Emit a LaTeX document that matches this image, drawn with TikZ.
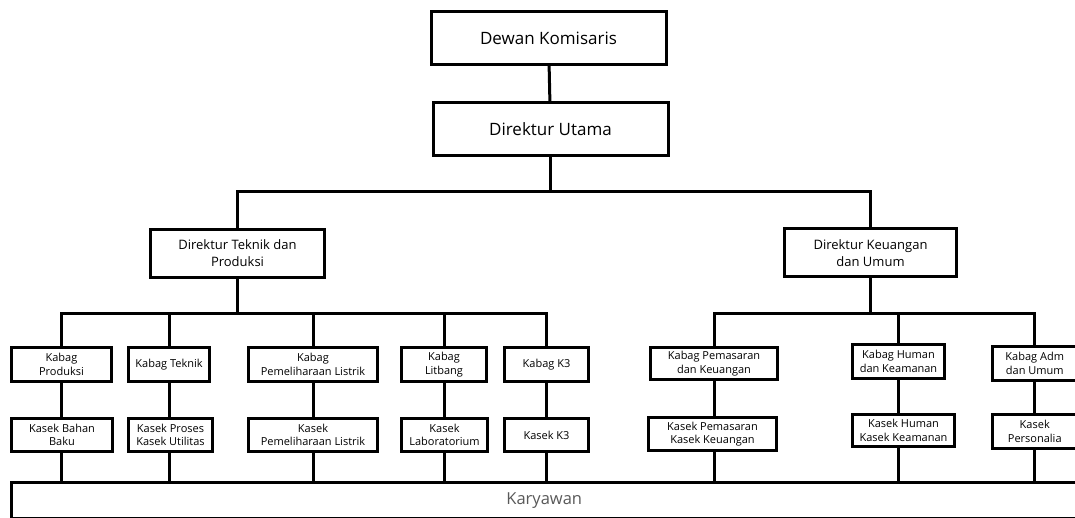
\documentclass[tikz,border=0pt]{standalone}
\usepackage{fontspec}
\setmainfont{Open Sans}
\usetikzlibrary{calc,positioning}
\tikzset{%
  box/.style={draw,rectangle,line width=3pt,align=center,inner sep=1pt,fill=white},
  line/.style={draw,line width=3pt}
}

\begin{document}
\begin{tikzpicture}[x=1pt,y=-1pt,
                    top/.style={box,minimum width=235pt,minimum height=53pt,%
                    font=\fontsize{17}{20}\selectfont},%
                    dir/.style={box,minimum height=48pt,font=\fontsize{13}{17}\selectfont},%
                    kb/.style={box,minimum height=34pt,font=\fontsize{11}{13.5}\selectfont}]
  \useasboundingbox (0,0) rectangle (1075,518);
  % pimpinan
  \node[top] (dk) at (548.5,38) {Dewan Komisaris};
  \node[top] (du) at (550.5,129) {Direktur Utama};
  \node[dir,minimum width=174pt] (dtp) at (237.5,253.5) {Direktur Teknik dan\\Produksi};
  \node[dir,minimum width=172pt] (dku) at (870.5,253) {Direktur Keuangan\\dan Umum};
  % kabag
  \node[kb,minimum width=100pt] (kp) at (61.5,364.5) {Kabag\\Produksi};
  \node[kb,minimum width=81pt] (kt) at (169,364.5) {Kabag Teknik};
  \node[kb,minimum width=129pt] (kpl) at (313,364.5) {Kabag\\Pemeliharaan Listrik};
  \node[kb,minimum width=85pt] (kl) at (444,364.5) {Kabag\\Litbang};
  \node[kb,minimum width=84pt] (kk3) at (546.5,364.5) {Kabag K3};
  \node[kb,minimum width=127pt,minimum height=32pt] (kpk) at (714,363.5) {Kabag Pemasaran\\dan Keuangan};
  \node[kb,minimum width=92pt] (khk) at (898.5,361.5) {Kabag Human\\dan Keamanan};
  \node[kb,minimum width=84.5pt] (kau) at (1034.75,363.5) {Kabag Adm\\dan Umum};
  % kasek
  \node[kb,minimum width=101pt,minimum height=33pt] (ksb) at (62,435) {Kasek Bahan\\Baku};
  \node[kb,minimum width=84pt,minimum height=33pt] (ksp) at (170.5,435) {Kasek Proses\\Kasek Utilitas};
  \node[kb,minimum width=129pt,minimum height=33pt] (kspl) at (313,435) {Kasek\\Pemeliharaan Listrik};
  \node[kb,minimum width=86pt,minimum height=33pt] (kslab) at (444.5,435) {Kasek\\Laboratorium};
  \node[kb,minimum width=84pt,minimum height=33pt] (ksk3) at (546.5,435) {Kasek K3};
  \node[kb,minimum width=128pt,minimum height=33pt] (kspk) at (712.5,434) {Kasek Pemasaran\\Kasek Keuangan};
  \node[kb,minimum width=102pt,minimum height=32pt] (kshk) at (903.5,430.5) {Kasek Human\\Kasek Keamanan};
  \node[kb,minimum width=84.5pt] (ksper) at (1034.75,431.5) {Kasek\\Personalia};
  % karyawan
  \node[box,minimum width=1065.5pt,minimum height=36pt,text=black!65,%
        font=\fontsize{16.5}{20}\selectfont] (kary) at (544.25,500.5) {Karyawan};
  % garis
  \coordinate (b1) at (0,192);
  \coordinate (b2) at (0,313);
  \draw[line] (dk) -- (du);
  \draw[line] (du.south) -- (du.south |- b1) -| (dtp.north);
  \draw[line] (du.south |- b1) -| (dku.north);
  \draw[line] (dtp.south) -- (dtp.south |- b2);
  \draw[line] (kp.north) -- (kp.north |- b2) -- (kk3.north |- b2) -- (kk3.north);
  \draw[line] (dku.south) -- (dku.south |- b2);
  \draw[line] (kpk.north) -- (kpk.north |- b2) -- (kau.north |- b2) -- (kau.north);
  \foreach \k in {kt,kpl,kl,khk}
    \draw[line] (\k.north) -- (\k.north |- b2);
  \foreach \a/\b in {kp/ksb,kt/ksp,kpl/kspl,kl/kslab,kk3/ksk3,kpk/kspk,khk/kshk,kau/ksper}{
    \draw[line] (\a.south) -- (\a.south |- \b.north);
    \draw[line] (\b.south -| \a) -- (\a.south |- kary.north);
  }
\end{tikzpicture}
\end{document}
